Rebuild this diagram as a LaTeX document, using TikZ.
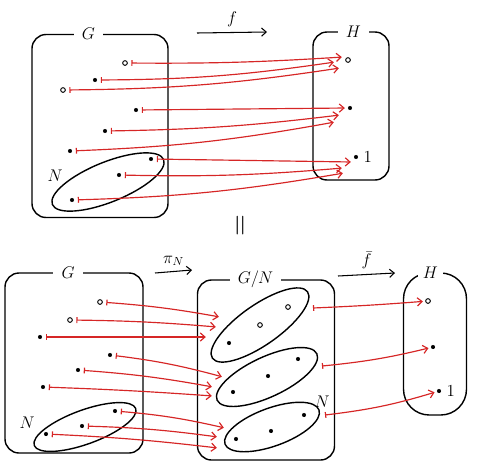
\documentclass[tikz,border=0pt]{standalone}
\usepackage{amsmath}
\usetikzlibrary{arrows.meta,shapes.geometric,positioning}
\definecolor{mapred}{RGB}{214,38,38}
\tikzset{
  set/.style={draw, line width=1.2pt, rounded corners=12pt, inner sep=0pt},
  subset/.style={draw, ellipse, line width=1.2pt, inner sep=0pt},
  setlabel/.style={fill=white, inner xsep=7pt, inner ysep=1pt, font=\Large},
  elem/.style={circle, fill, inner sep=0pt, minimum size=3.5pt},
  helem/.style={circle, draw, line width=0.8pt, inner sep=0pt, minimum size=4pt},
  mapsto/.style={draw=mapred, line width=1pt, shorten <=3pt, shorten >=1pt,
    {Bar[width=5pt]}-{Straight Barb[length=4pt,width=7pt]}},
  mapline/.style={line width=0.9pt, -{Straight Barb[length=4pt,width=7pt]}},
  mapname/.style={font=\Large, above=1pt}
}
\begin{document}
\begin{tikzpicture}[x=0.03cm, y=-0.03cm]
  \useasboundingbox (0,0) rectangle (480,467);

  % f : G -> H
  \node (Gtop) [set, minimum width=4.08cm, minimum height=5.49cm] at (100,126) {};
  \node (GtopLabel) [setlabel, xshift=-10pt] at (Gtop.north) {$G$};
  \node (Ntop) [subset, minimum width=3.6cm, minimum height=1.2cm, rotate=22] at (108,182) {};
  \node (NtopLabel) [font=\Large] at (55,176) {$N$};
  \node (Htop) [set, minimum width=2.28cm, minimum height=4.44cm] at (351,106) {};
  \node (HtopLabel) [setlabel, xshift=2pt] at (Htop.north) {$H$};
  \coordinate (ftopA) at (197,33);
  \coordinate (ftopB) at (267,32);
  \draw [mapline] (ftopA) -- node[mapname] (ftopName) {$f$} (ftopB);

  \foreach \name/\pos/\kind in {g1/{125,63}/helem, g2/{95,80}/elem, g3/{63,90}/helem,
      g4/{136,110}/elem, g5/{105,131}/elem, g6/{70,151}/elem,
      g7/{151,159}/elem, g8/{119,175}/elem, g9/{72,200}/elem,
      h1/{348,60}/helem, h2/{350,108}/elem, h3/{356,157}/elem}
    \node (\name) [\kind] at (\pos) {};
  \node (oneTop) [right=1pt of h3, font=\Large] {$1$};
  \foreach \name/\pos in {e1/{343,57}, e2/{335,62}, e3/{340,68},
      e4/{346,108}, e5/{340,115}, e6/{335,122},
      e7/{352,162}, e8/{343,168}, e9/{344,173}}
    \coordinate (\name) at (\pos);
  \foreach \i/\b in {1/2, 2/4, 3/4, 4/0, 5/3, 6/4, 7/0, 8/3, 9/4}
    \draw [mapsto] (g\i) to[bend right=\b] (e\i);

  \node (equal) [rotate=90, scale=2.4] at (242,226) {$=$};

  % pi_N : G -> G/N, then fbar : G/N -> H
  \node (Gbot) [set, minimum width=4.14cm, minimum height=5.4cm] at (74,363) {};
  \node (GbotLabel) [setlabel, xshift=-5pt] at (Gbot.north) {$G$};
  \node (Nbot) [subset, minimum width=3.24cm, minimum height=1.02cm, rotate=20] at (85,427) {};
  \node (NbotLabel) [font=\Large] at (27,423) {$N$};
  \coordinate (piA) at (155,273);
  \coordinate (piB) at (192,270);
  \draw [mapline] (piA) -- node[mapname] (piName) {$\pi_N$} (piB);

  \node (quot) [set, minimum width=4.11cm, minimum height=5.4cm] at (266,370) {};
  \node (quotLabel) [setlabel, xshift=-9pt] at (quot.north) {$G/N$};
  \node (coset1) [subset, minimum width=3.48cm, minimum height=1.2cm, rotate=35] at (260,325) {};
  \node (coset2) [subset, minimum width=3.3cm, minimum height=1.2cm, rotate=25] at (267,377) {};
  \node (coset3) [subset, minimum width=3cm, minimum height=1.14cm, rotate=20] at (272,427) {};
  \node (cosetLabel) [font=\Large] at (322,402) {$N$};

  \node (Hbot) [set, rounded corners=22pt, minimum width=1.89cm, minimum height=4.26cm] at (435,344) {};
  \node (HbotLabel) [setlabel, inner xsep=4pt, xshift=-4pt] at (Hbot.north) {$H$};
  \coordinate (fbarA) at (338,276);
  \coordinate (fbarB) at (395,273);
  \draw [mapline] (fbarA) -- node[mapname] (fbarName) {$\bar{f}$} (fbarB);

  \foreach \name/\pos/\kind in {a1/{100,302}/helem, a2/{70,320}/helem, a3/{40,337}/elem,
      a4/{110,355}/elem, a5/{78,370}/elem, a6/{43,387}/elem,
      a7/{115,411}/elem, a8/{82,426}/elem, a9/{46,434}/elem,
      q1/{288,307}/helem, q2/{260,325}/helem, q3/{229,343}/elem,
      q4/{298,359}/elem, q5/{268,376}/elem, q6/{233,392}/elem,
      q7/{304,415}/elem, q8/{271,431}/elem, q9/{236,439}/elem,
      k1/{428,301}/helem, k2/{433,347}/elem, k3/{439,391}/elem}
    \node (\name) [\kind] at (\pos) {};
  \node (oneBot) [right=1pt of k3, font=\Large] {$1$};
  \foreach \name/\pos in {c1/{220,317}, c2/{217,327}, c3/{207,337},
      c4/{223,377}, c5/{213,387}, c6/{213,396},
      c7/{225,428}, c8/{218,437}, c9/{218,448},
      s1/{313,308}, s2/{322,366}, s3/{325,415}}
    \coordinate (\name) at (\pos);
  \foreach \i/\b in {1/-3, 2/-2, 3/0, 4/-4, 5/-3, 6/-1, 7/-4, 8/-3, 9/-2}
    \draw [mapsto] (a\i) to[bend right=\b] (c\i);
  \foreach \i/\b in {1/1, 2/4, 3/5}
    \draw [mapsto, shorten <=0pt, shorten >=2pt] (s\i) to[bend right=\b] (k\i);
\end{tikzpicture}
\end{document}
